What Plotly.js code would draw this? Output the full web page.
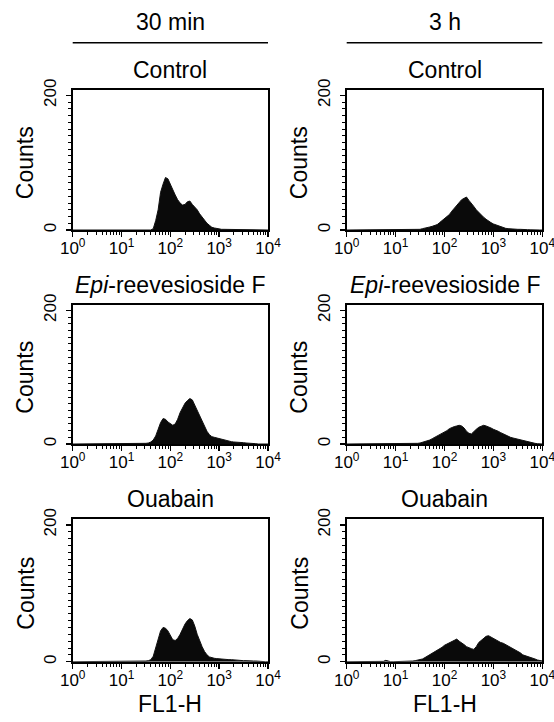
<!DOCTYPE html>
<html><head><meta charset="utf-8">
<script src="https://cdn.plot.ly/plotly-3.0.1.min.js"></script>
<style>html,body{margin:0;padding:0;background:#fff}#chart{width:554px;height:722px}</style>
</head><body><div id="chart"></div>
<script>
// bin positions (log10 of FL1-H)
const logFL1 = [0.00,0.05,0.10,0.15,0.20,0.25,0.30,0.35,0.40,0.45,
  0.50,0.55,0.60,0.65,0.70,0.75,0.80,0.85,0.90,0.95,
  1.00,1.05,1.10,1.15,1.20,1.25,1.30,1.35,1.40,1.45,
  1.50,1.55,1.60,1.65,1.70,1.75,1.80,1.85,1.90,1.95,
  2.00,2.05,2.10,2.15,2.20,2.25,2.30,2.35,2.40,2.45,
  2.50,2.55,2.60,2.65,2.70,2.75,2.80,2.85,2.90,2.95,
  3.00,3.05,3.10,3.15,3.20,3.25,3.30,3.35,3.40,3.45,
  3.50,3.55,3.60,3.65,3.70,3.75,3.80,3.85,3.90,3.95,
  4.00];

const control30 = [0,0,0,0,0,0,0,0,0,0, 0,0,0,0,0,0,0,0,0,0, 0,0,0,0,0,0,0,0,0,0,
  0,0,0,2,14,30,56,68,78,76, 67,60,52,45,40,37,38,42,43,38,
  34,30,24,19,14,10,7,4,3,2, 1.5,1,1,1,0.5,0.5,0.5,0.5,0,0, 0,0,0,0,0,0,0,0,0,0, 0];
const control3h = [0,0,0,0,0,0,0,0,0,0, 0,0,0,0,0,0,0,0,0,0, 0,0,0,0,0,0,0,0,0,0.5,
  1,2,2.5,3.5,4.5,5.5,7,8,11,14, 17,20,23,28,32,36,41,45,47,49,
  44,40,35,30,26,22,19,16,13,11, 9,7.5,6,4.5,3.5,2.5,2,1.5,1.5,1, 1,1,0.5,0.5,0.5,0.3,0,0,0,0, 0];
const epi30 = [0,0,0,0,0,0,0,0,0,0, 0,0,0,0,0,0,0,0,0,0, 0,0,0,0.5,1,0.5,0.5,0.5,0.5,0.5,
  1,1.5,3,6,12,22,32,38,37,33, 30,28,30,37,47,55,61,65,68,66,
  58,50,42,33,26,19,14,11,10,9, 8,6.5,5.5,4.5,4,3.5,3,3,2.5,2, 2,1.5,1.5,1,0.5,0.5,0,0,0,0, 0];
const epi3h = [0,0,0,0,0,0,0,0,0,0, 0,0,0.5,0,0,0,0.5,0,0,0, 0.5,0,0,0,0,0,0,0,0.5,1,
  1.5,2.5,3.5,5,6,8,10,12,13,15, 18,20,23,25,26,27,28,27,24,19,
  16,15,19,22,25,27,28,27,26,24, 22,21,19,17,15,13,12,10,9,8, 7,6,5,4,3,2.5,1.5,1,0.5,0, 0];
const ouabain30 = [0,0,0,0,0,0,0,0,0,0, 0,0,0,0,0,0,0,0,0,0, 0,0,0,0,0,0,0,0.5,0.5,1,
  1,1.5,3,8,20,34,45,50,49,45, 38,32,31,34,40,48,55,60,63,61,
  52,40,30,22,15,10,7,5.5,5,4.5, 4,4,4,3.5,3,3,2.5,2,2,1.5, 1.5,1.5,1,1,1,1,0.5,0,0,0, 0];
const ouabain3h = [0,0,0,0,0,0,0,0,0,0, 0,0,0,0,0,0.5,2,0.5,0,0, 0,0,0,0,0,0,0.5,1,1.5,2,
  3,4,6,8,10,12,14,17,19,21, 24,26,28,30,32,33,30,28,25,22,
  20,19,18,22,28,31,34,37,38,36, 33,31,29,28,27,25,23,22,20,18, 16,13,10,9,8,6,5,4,2.5,1.5, 1];

const timeLabels = ['30 min', '3 h'];
const treatmentLabels = ['Control', '<i>Epi</i>-reevesioside F', 'Ouabain'];
const panelSeries = [control30, control3h, epi30, epi3h, ouabain30, ouabain3h];
const xTickVals = [1, 10, 100, 1000, 10000];
const xTickText = ['10<sup>0</sup>', '10<sup>1</sup>', '10<sup>2</sup>', '10<sup>3</sup>', '10<sup>4</sup>'];
const yTickVals = [0, 200];
const yTickText = ['0', '200'];
const xTitle = 'FL1-H';
const yTitle = 'Counts';

// layout geometry (pixels in 554x722)
const W = 554, H = 722;
const colPx = [[72.7, 268.0], [346.7, 542.3]];
const rowPx = [[90, 230], [305, 444], [519.3, 661.7]];
const FONT = 'Liberation Sans, Arial, Helvetica, sans-serif';

const fl1 = logFL1.map(v => Math.pow(10, v));
const minorX = [];
for (let d = 1; d < 10000; d *= 10) for (let k = 2; k <= 9; k++) minorX.push(k * d);

const data = [];
const layout = {
  width: W, height: H, margin: {l: 0, r: 0, t: 0, b: 0},
  paper_bgcolor: '#fff', plot_bgcolor: '#fff', showlegend: false,
  font: {family: FONT, color: '#000'},
  annotations: [], shapes: []
};

panelSeries.forEach((ys, i) => {
  const r = Math.floor(i / 2), c = i % 2;
  const n = i + 1;
  const xa = 'xaxis' + (n === 1 ? '' : n), ya = 'yaxis' + (n === 1 ? '' : n);
  data.push({
    type: 'scatter', mode: 'lines', x: fl1, y: ys,
    xaxis: 'x' + (n === 1 ? '' : n), yaxis: 'y' + (n === 1 ? '' : n),
    fill: 'tozeroy', fillcolor: '#0a0a0a', line: {color: '#111', width: 1}, hoverinfo: 'skip'
  });
  layout[xa] = {
    domain: [colPx[c][0] / W, colPx[c][1] / W], anchor: 'y' + (n === 1 ? '' : n),
    type: 'log', range: [0, 4], tickmode: 'array', tickvals: xTickVals, ticktext: xTickText,
    ticks: 'outside', ticklen: 5, tickwidth: 1.5, tickcolor: '#000', ticklabelstandoff: -3,
    ticklabeloverflow: 'allow',
    minor: {tickmode: 'array', tickvals: minorX, ticks: 'outside', ticklen: 3, tickwidth: 1, tickcolor: '#000', showgrid: false},
    showgrid: false, zeroline: false, showline: true, mirror: true, linewidth: 2, linecolor: '#000',
    tickfont: {size: 17, family: FONT, color: '#000'}, fixedrange: true
  };
  layout[ya] = {
    domain: [1 - rowPx[r][1] / H, 1 - rowPx[r][0] / H], anchor: 'x' + (n === 1 ? '' : n),
    range: [0, 208], tickmode: 'array', tickvals: yTickVals, ticktext: yTickText, tickangle: -90,
    ticks: 'outside', ticklen: 5, tickwidth: 1.5, tickcolor: '#000', ticklabelstandoff: 3,
    minor: {tickmode: 'linear', tick0: 0, dtick: 10, ticks: 'outside', ticklen: 3, tickwidth: 1, tickcolor: '#000', showgrid: false},
    showgrid: false, zeroline: false, showline: true, mirror: true, linewidth: 2, linecolor: '#000',
    tickfont: {size: 17, family: FONT, color: '#000'}, fixedrange: true
  };
  const cx = (colPx[c][0] + colPx[c][1]) / 2 / W;
  const cy = 1 - ((rowPx[r][0] + rowPx[r][1]) / 2 + 3) / H;
  // panel title
  layout.annotations.push({xref: 'paper', yref: 'paper', x: cx, y: 1 - (rowPx[r][0] - 20) / H,
    text: treatmentLabels[r], showarrow: false, xanchor: 'center', yanchor: 'middle',
    font: {size: 23, family: FONT, color: '#000'}});
  // y title
  layout.annotations.push({xref: 'paper', yref: 'paper', x: (colPx[c][0] - 47.5) / W, y: cy,
    text: yTitle, textangle: -90, showarrow: false, xanchor: 'center', yanchor: 'middle',
    font: {size: 23, family: FONT, color: '#000'}});
  if (r === 2) {
    layout.annotations.push({xref: 'paper', yref: 'paper', x: cx, y: 1 - 704 / H,
      text: xTitle, showarrow: false, xanchor: 'center', yanchor: 'middle',
      font: {size: 23, family: FONT, color: '#000'}});
  }
});

timeLabels.forEach((t, c) => {
  const cx = (colPx[c][0] + colPx[c][1]) / 2 / W;
  layout.annotations.push({xref: 'paper', yref: 'paper', x: cx, y: 1 - 21.7 / H,
    text: t, showarrow: false, xanchor: 'center', yanchor: 'middle',
    font: {size: 23, family: FONT, color: '#000'}});
  layout.shapes.push({type: 'line', xref: 'paper', yref: 'paper',
    x0: colPx[c][0] / W, x1: colPx[c][1] / W, y0: 1 - 42.7 / H, y1: 1 - 42.7 / H,
    line: {color: '#000', width: 1.5}});
});

Plotly.newPlot('chart', data, layout, {displayModeBar: false, staticPlot: true});
</script></body></html>
